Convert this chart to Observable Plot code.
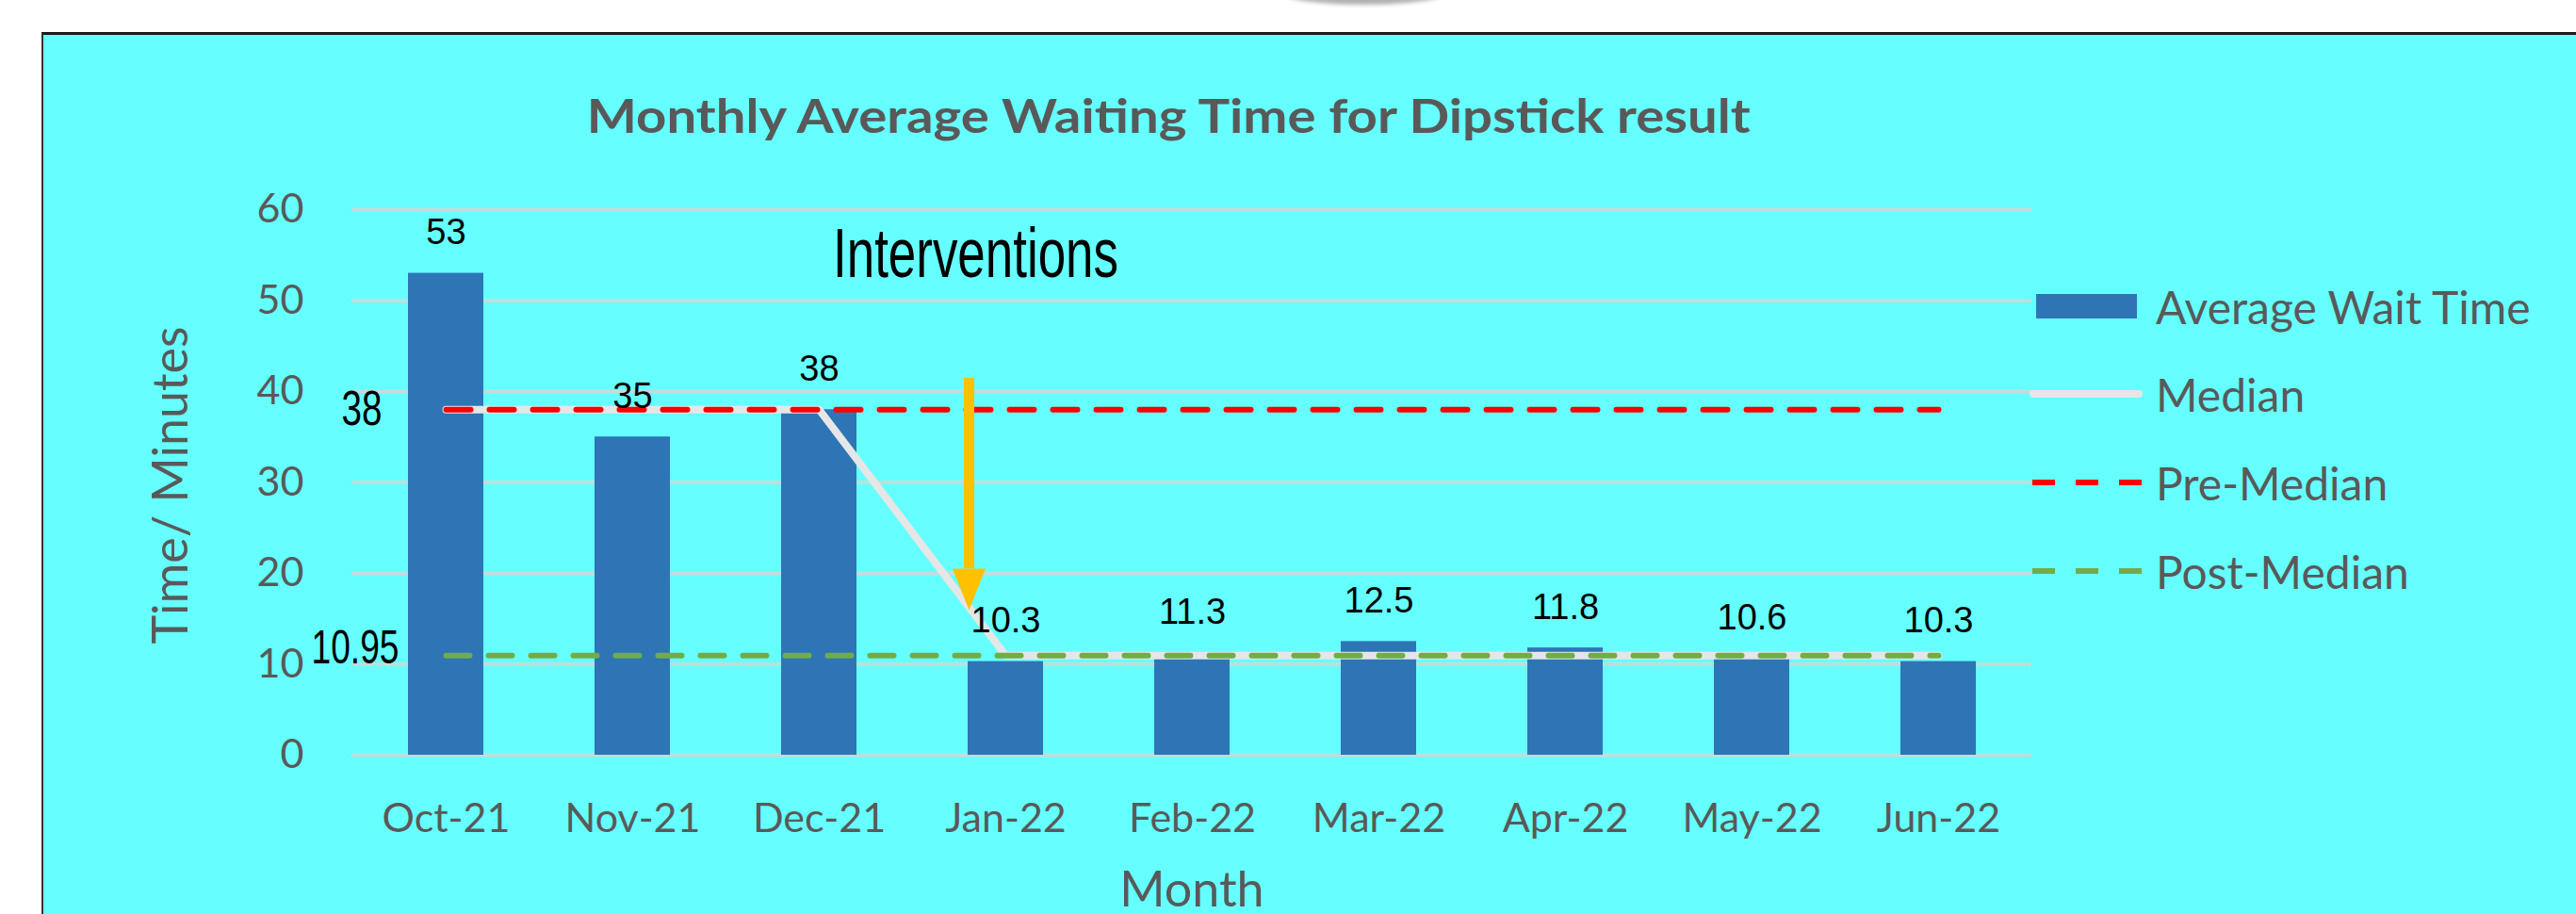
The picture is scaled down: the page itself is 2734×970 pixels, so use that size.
<!DOCTYPE html>
<html>
<head>
<meta charset="utf-8">
<script src="https://cdn.jsdelivr.net/npm/d3@7"></script>
<script src="https://cdn.jsdelivr.net/npm/@observablehq/plot@0.6"></script>
<style>
  html, body { margin: 0; padding: 0; background: #ffffff; width: 2734px; height: 970px; overflow: hidden; }
  #panel { position: absolute; left: 44px; top: 34px; width: 2690px; height: 936px; background: #66ffff;
           border-top: 3px solid #1a1a1a; border-left: 2px solid #333; box-sizing: border-box; }
  #shadow { position: absolute; left: 1360px; top: -22px; width: 175px; height: 27px; border-radius: 50%;
            background: #b0b0b0; filter: blur(2px); }
  #chart { position: absolute; left: 0; top: 0; }
  #title { position: absolute; left: 1240px; top: 120px; transform-origin: 50% 50%;
           font-family: Lato, sans-serif; font-weight: bold; font-size: 50px; color: #595959; white-space: nowrap; line-height: 1; }
  .leg { position: absolute; left: 2154px; height: 40px; display: flex; align-items: center; }
  .leg span { font-family: Lato, sans-serif; font-size: 48px; color: #595959; margin-left: 14px; white-space: nowrap; }
</style>
</head>
<body>
<div id="shadow"></div>
<div id="panel"></div>
<div id="chart"></div>
<div id="title"></div>
<div id="legend"></div>
<script>
// ---- data ----
const months = ["Oct-21","Nov-21","Dec-21","Jan-22","Feb-22","Mar-22","Apr-22","May-22","Jun-22"];
const waitTime = [53, 35, 38, 10.3, 11.3, 12.5, 11.8, 10.6, 10.3];
const medianLine = [38, 38, 38, 10.95, 10.95, 10.95, 10.95, 10.95, 10.95];
const preMedian = 38;
const postMedian = 10.95;
const yTicks = [0, 10, 20, 30, 40, 50, 60];
const seriesNames = ["Average Wait Time", "Median", "Pre-Median", "Post-Median"];
const titleText = "Monthly Average Waiting Time for Dipstick result";
const yLabel = "Time/ Minutes";
const xLabel = "Month";
const annotationText = "Interventions";
const annotationAt = {month: "Jan-22", y: 55.1};
const arrowAt = {month: "Jan-22", yStart: 41.45, yBaseHead: 20.5, yTip: 15.96};

// ---- tables ----
const rows = months.map((m, i) => ({month: m, value: waitTime[i], median: medianLine[i], pre: preMedian, post: postMedian}));

const blue = "#2e75b6", medianColor = "#e6e6e6", red = "#ff0000", green = "#70ad47", orange = "#ffc000", grid = "#c2dcdc";
const sans = "'Liberation Sans', Arial, sans-serif";

const headSymbol = {draw(ctx) { ctx.moveTo(-17.5, -44); ctx.lineTo(17.5, -44); ctx.lineTo(0, 0); ctx.closePath(); }};

const chart = Plot.plot({
  width: 2734, height: 970,
  marginLeft: 373, marginRight: 578, marginTop: 222, marginBottom: 169,
  x: {domain: months, paddingInner: 0.596, paddingOuter: 0.298, label: null},
  y: {domain: [0, 60], label: null},
  style: {background: "transparent", fontFamily: "Lato, sans-serif", color: "#595959", overflow: "visible"},
  marks: [
    Plot.ruleY(yTicks, {stroke: grid, strokeWidth: 4}),
    Plot.barY(rows, {x: "month", y: "value", fill: blue}),
    Plot.axisX({tickSize: 0, tickPadding: 51, fontSize: 43, label: null}),
    Plot.axisY({ticks: yTicks, tickSize: 0, tickPadding: 51, fontSize: 43, label: null}),
    Plot.line(rows, {x: "month", y: "median", stroke: medianColor, strokeWidth: 8, strokeLinecap: "round", strokeLinejoin: "round"}),
    Plot.line(rows, {x: "month", y: "pre", stroke: red, strokeWidth: 6, strokeDasharray: "26,20"}),
    Plot.line(rows, {x: "month", y: "post", stroke: green, strokeWidth: 6, strokeDasharray: "25,20"}),
    Plot.text(rows, {x: "month", y: "value", text: d => String(d.value), dy: -43, fontSize: 38, fill: "#000", fontFamily: sans}),
    Plot.text([preMedian], {x: () => months[0], y: d => d, text: d => String(d), dx: -68, textAnchor: "end", fontSize: 52, fill: "#000", fontFamily: sans}),
    Plot.text([postMedian], {x: () => months[0], y: d => d, text: d => String(d), dx: -50, dy: -8, textAnchor: "end", fontSize: 50, fill: "#000", fontFamily: sans}),
    Plot.text([annotationAt], {x: "month", y: "y", text: () => annotationText, dx: -32, fontSize: 75, fill: "#000", fontFamily: sans}),
    Plot.ruleX([arrowAt], {x: "month", y1: "yStart", y2: "yBaseHead", dx: -39, stroke: orange, strokeWidth: 11}),
    Plot.dot([arrowAt], {x: "month", y: "yTip", dx: -39, symbol: headSymbol, fill: orange, stroke: "none"}),
    Plot.text([yLabel], {frameAnchor: "left", textAnchor: "middle", lineAnchor: "middle", text: d => d, rotate: -90, dx: -191, dy: 3, fontSize: 52}),
    Plot.text([xLabel], {frameAnchor: "bottom", lineAnchor: "middle", text: d => d, dy: 144, fontSize: 52})
  ]
});
document.getElementById("chart").appendChild(chart);

// condensed annotation texts (narrow face in the original)
const fitWidth = {"52": 43, "50": 93, "75": 303};
d3.select(chart).selectAll("text").each(function() {
  const g = this.parentNode;
  const fs = g.getAttribute("font-size");
  const ff = g.getAttribute("font-family") || "";
  if (ff.includes("Liberation") && fitWidth[fs]) {
    this.setAttribute("textLength", fitWidth[fs]);
    this.setAttribute("lengthAdjust", "spacingAndGlyphs");
  }
});

// title, scaled horizontally to the original width
const title = document.getElementById("title");
title.textContent = titleText;
const tw = title.getBoundingClientRect().width, th = title.getBoundingClientRect().height;
title.style.left = (1240 - tw / 2) + "px";
title.style.top = (122 - th / 2) + "px";
title.style.transform = `scaleX(${1235 / tw})`;

// ---- legend ----
const legendY = [325, 418, 512, 606];
const legend = document.getElementById("legend");
seriesNames.forEach((name, i) => {
  const div = document.createElement("div");
  div.className = "leg";
  div.style.top = (legendY[i] - 20) + "px";
  let sw;
  if (i === 0) sw = `<svg width="120" height="40"><rect x="7" y="7" width="107" height="26" fill="${blue}"/></svg>`;
  else if (i === 1) sw = `<svg width="120" height="40"><line x1="4" x2="116" y1="20" y2="20" stroke="${medianColor}" stroke-width="8" stroke-linecap="round"/></svg>`;
  else sw = `<svg width="120" height="40"><line x1="3" x2="120" y1="20" y2="20" stroke="${i === 2 ? red : green}" stroke-width="6" stroke-dasharray="24,22"/></svg>`;
  div.innerHTML = sw + `<span>${name}</span>`;
  legend.appendChild(div);
});
</script>
</body>
</html>
